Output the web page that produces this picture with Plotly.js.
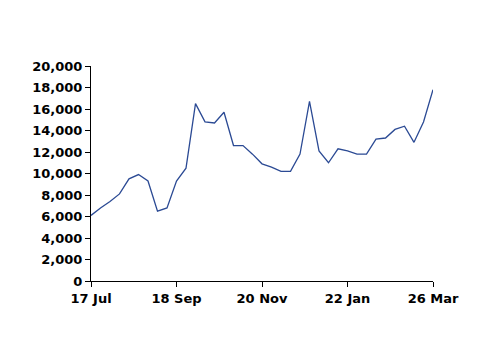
<!DOCTYPE html>
<html>
<head>
<meta charset="utf-8">
<script src="https://cdn.plot.ly/plotly-3.0.1.min.js"></script>
<style>html,body{margin:0;padding:0;background:#fff;}#chart{width:500px;height:354px;}</style>
</head>
<body>
<div id="chart"></div>
<script>
const weekStart = "2017-07-17";
const values = [6100, 6800, 7400, 8100, 9500, 9900, 9300, 6500, 6800, 9300, 10500, 16500, 14800, 14700, 15700, 12600, 12600, 11800, 10900, 10600, 10200, 10200, 11800, 16700, 12100, 11000, 12300, 12100, 11800, 11800, 13200, 13300, 14100, 14400, 12900, 14800, 17800];
const tickDates = ["2017-07-17", "2017-09-18", "2017-11-20", "2018-01-22", "2018-03-26"];
const tickLabels = ["17 Jul", "18 Sep", "20 Nov", "22 Jan", "26 Mar"];
const yTicks = [0, 2000, 4000, 6000, 8000, 10000, 12000, 14000, 16000, 18000, 20000];

const dates = values.map((v, i) => {
  const d = new Date(weekStart + "T00:00:00Z");
  d.setUTCDate(d.getUTCDate() + 7 * i);
  return d.toISOString().slice(0, 10);
});

const tickFont = {family: "DejaVu Sans, Verdana, sans-serif", size: 13, color: "#000", weight: "bold"};

Plotly.newPlot("chart", [{
  x: dates, y: values, type: "scatter", mode: "lines",
  line: {color: "#2b4a94", width: 1.3}, hoverinfo: "skip"
}], {
  width: 500, height: 354,
  margin: {l: 91, r: 67, t: 66, b: 73},
  paper_bgcolor: "#fff", plot_bgcolor: "#fff",
  showlegend: false,
  xaxis: {
    type: "date", range: [tickDates[0], tickDates[tickDates.length - 1]],
    tickmode: "array", tickvals: tickDates, ticktext: tickLabels,
    showgrid: false, zeroline: false, showline: true, linecolor: "#000", linewidth: 1,
    ticks: "outside", ticklen: 5, tickcolor: "#000", tickwidth: 1,
    tickfont: tickFont
  },
  yaxis: {
    range: [0, 20000], tickmode: "array", tickvals: yTicks, tickformat: ",d",
    showgrid: false, zeroline: false, showline: true, linecolor: "#000", linewidth: 1,
    ticks: "outside", ticklen: 5, tickcolor: "#000", tickwidth: 1,
    tickfont: tickFont
  }
}, {staticPlot: true});
</script>
</body>
</html>
